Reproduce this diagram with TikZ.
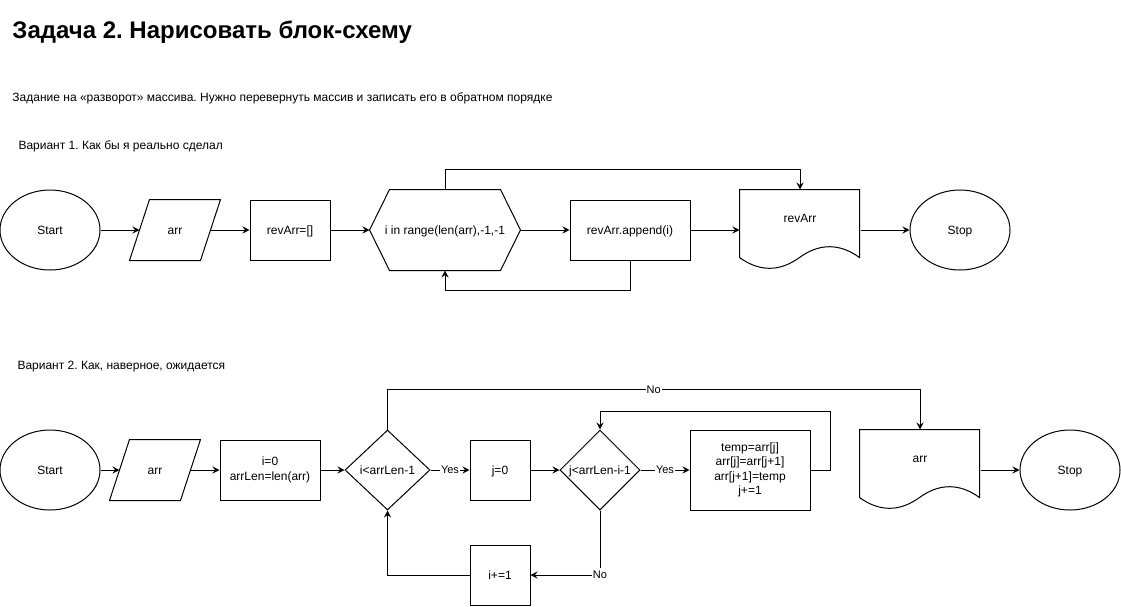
\documentclass[tikz,border=0pt]{standalone}
\usepackage{fontspec}
\setmainfont{Liberation Sans}
\frenchspacing
\usetikzlibrary{shapes.geometric,arrows.meta,calc}
\tikzset{
  txt/.style={font=\fontsize{12}{14.4}\selectfont, inner sep=0pt, align=center},
  one/.style={text height=10.86pt, text depth=2.54pt},
  term/.style={txt, one, draw, ellipse, minimum width=100, minimum height=80},
  proc/.style={txt, draw, rectangle, minimum height=60},
  dec/.style={txt, one, draw, diamond, minimum height=80},
  ghost/.style={txt, one, rectangle, minimum height=60},
  flow/.style={-{Stealth[length=7pt,width=7pt,inset=2.5pt]}, line width=1pt},
  lbl/.style={font=\fontsize{11}{13}\selectfont, fill=white, inner sep=1pt, text height=9.95pt, text depth=2.33pt},
  head/.style={anchor=base west, inner sep=0pt},
}
\newcommand\docpath[1]{\draw[shift={(#1)}] (0,0) -- (120,0) -- (120,68) .. controls (100,53.6) and (80,53.6) .. (60,68) .. controls (40,82.4) and (20,82.4) .. (0,68) -- cycle;}
\begin{document}
\begin{tikzpicture}[x=1pt,y=-1pt,line width=1pt]
\path[use as bounding box] (0,0) rectangle (1121,606);
% headings
\node[head, font=\fontsize{24}{28}\selectfont\bfseries] (title) at (12,38) {Задача 2. Нарисовать блок-схему};
\node[head, font=\fontsize{12}{14}\selectfont] (task) at (12,101) {Задание на «разворот» массива. Нужно перевернуть массив и записать его в обратном порядке};
\node[head, font=\fontsize{12}{14}\selectfont] (v1) at (18,149) {Вариант 1. Как бы я реально сделал};
\node[head, font=\fontsize{12}{14}\selectfont] (v2) at (17,369) {Вариант 2. Как, наверное, ожидается};
% ---------- row 1
\node[term] (start1) at (50,230) {Start};
\node[ghost, minimum width=70] (in1) at (175,230) {arr};
\draw ([xshift=-10pt]in1.south west) -- ([xshift=-10pt]in1.south east) -- ([xshift=10pt]in1.north east) -- ([xshift=10pt]in1.north west) -- cycle;
\node[proc, one, minimum width=80] (rv) at (290,230) {revArr=[]};
\node[ghost, minimum width=150, minimum height=80] (hex) at (445,230) {i in range(len(arr),-1,-1};
\draw (hex.west) -- ([xshift=20pt]hex.north west) -- ([xshift=-20pt]hex.north east) -- (hex.east) -- ([xshift=-20pt]hex.south east) -- ([xshift=20pt]hex.south west) -- cycle;
\node[proc, one, minimum width=120] (app) at (630,230) {revArr.append(i)};
\node[ghost, minimum width=120, minimum height=80] (doc1) at (800,230) {};
\docpath{doc1.north west}
\node[txt, one] (doc1t) at (800,218) {revArr};
\node[term] (stop1) at (960,230) {Stop};
\draw[flow] (start1.east) -- (in1.west);
\draw[flow] (in1.east) -- (rv.west);
\draw[flow] (rv.east) -- (hex.west);
\draw[flow] (hex.east) -- (app.west);
\draw[flow] (app.east) -- (doc1.west);
\draw[flow] (doc1.east) -- (stop1.west);
\draw[flow] (hex.north) -- ++(0,-20) -| (doc1.north);
\draw[flow] (app.south) -- ++(0,30) -| (hex.south);
% ---------- row 2
\node[term] (start2) at (50,470) {Start};
\node[ghost, minimum width=70] (in2) at (155,470) {arr};
\draw ([xshift=-10pt]in2.south west) -- ([xshift=-10pt]in2.south east) -- ([xshift=10pt]in2.north east) -- ([xshift=10pt]in2.north west) -- cycle;
\node[proc, minimum width=100] (init) at (270,470) {i=0\\arrLen=len(arr)};
\node[dec, minimum width=85] (d1) at (387.5,470) {i<arrLen-1};
\node[proc, one, minimum width=60] (j0) at (500,470) {j=0};
\node[dec, minimum width=80] (d2) at (600,470) {j<arrLen-i-1};
\node[proc, minimum width=120, minimum height=80] (tmp) at (750,470) {temp=arr[j]\\arr[j]=arr[j+1]\\arr[j+1]=temp\\j+=1};
\node[proc, one, minimum width=60] (inc) at (500,575) {i+=1};
\node[ghost, minimum width=120, minimum height=80] (doc2) at (920,470) {};
\docpath{doc2.north west}
\node[txt, one] (doc2t) at (920,458) {arr};
\node[term] (stop2) at (1070,470) {Stop};
\draw[flow] (start2.east) -- (in2.west);
\draw[flow] (in2.east) -- (init.west);
\draw[flow] (init.east) -- (d1.west);
\draw[flow] (d1.east) -- node[lbl] {Yes} (j0.west);
\draw[flow] (j0.east) -- (d2.west);
\draw[flow] (d2.east) -- node[lbl] {Yes} (tmp.west);
\draw[flow] (tmp.east) -- ++(20,0) -- ++(0,-59) -| (d2.north);
\draw[flow] (d2.south) |- node[lbl] {No} (inc.east);
\draw[flow] (inc.west) -| (d1.south);
\draw[flow] (d1.north) -- ++(0,-40) -| node[lbl, pos=0.25] {No} (doc2.north);
\draw[flow] (doc2.east) -- (stop2.west);
\end{tikzpicture}
\end{document}
